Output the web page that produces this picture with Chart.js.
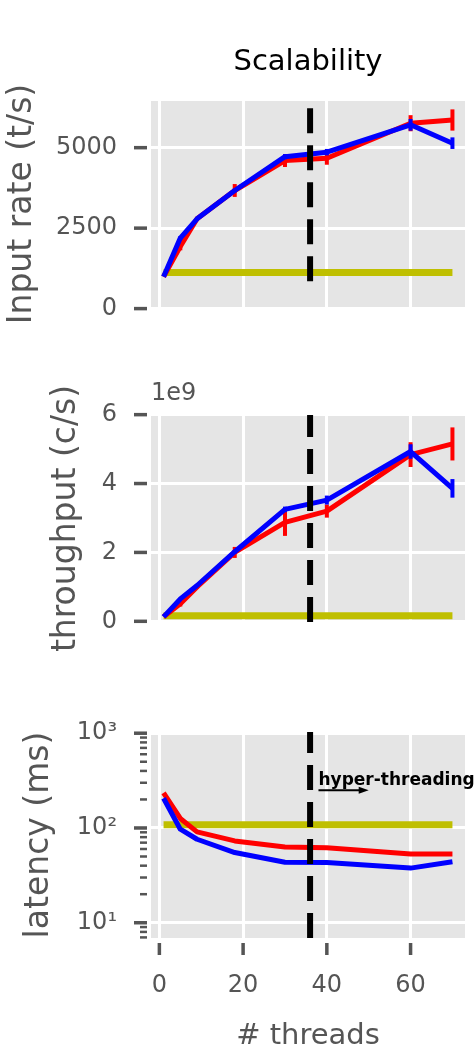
<!DOCTYPE html>
<html>
<head>
<meta charset="utf-8">
<script src="https://cdn.jsdelivr.net/npm/chart.js@4.4.1/dist/chart.umd.min.js"></script>
<style>
    html, body { margin: 0; padding: 0; background: #fff; }
    #wrap { position: relative; width: 474px; height: 1052px; }
    canvas { position: absolute; left: 0; }
</style>
</head>
<body>
<div id="wrap">
    <canvas id="rateChart" width="474" height="340" style="top:0px"></canvas>
    <canvas id="tputChart" width="474" height="300" style="top:360px"></canvas>
    <canvas id="latChart" width="474" height="372" style="top:680px"></canvas>
</div>
<script>
// --- data ---
const threads = [1, 5, 9, 18, 30, 40, 60, 70];
const threadTicks = [0, 20, 40, 60];
const physicalCores = 36; // dashed line: hyper-threading starts here

// input rate (t/s)
const rateRed = [990, 1930, 2790, 3670, 4600, 4670, 5760, 5860];
const rateRedErr = [0, 120, 60, 200, 200, 200, 250, 330];
const rateBlue = [990, 2190, 2790, 3670, 4720, 4860, 5710, 5140];
const rateBlueErr = [0, 60, 40, 60, 80, 100, 180, 180];
const rateBaseline = 1120;
const rateTicks = [0, 2500, 5000];

// throughput (c/s)
const tputRed = [0.13e9, 0.51e9, 1.0e9, 2.0e9, 2.87e9, 3.20e9, 4.84e9, 5.15e9];
const tputRedErr = [0, 0.08e9, 0.05e9, 0.16e9, 0.39e9, 0.19e9, 0.36e9, 0.48e9];
const tputBlue = [0.13e9, 0.65e9, 1.04e9, 2.02e9, 3.25e9, 3.52e9, 4.93e9, 3.86e9];
const tputBlueErr = [0, 0.03e9, 0.03e9, 0.05e9, 0.08e9, 0.13e9, 0.21e9, 0.27e9];
const tputBaseline = 0.16e9;
const tputTicks = [0, 2e9, 4e9, 6e9];

// latency (ms), log scale
const latRed = [235, 126, 91, 73, 63, 62, 53, 53];
const latBlue = [206, 97, 76, 55, 43.5, 43.3, 37.7, 44];
const latBaseline = 108;
const latTicks = [10, 100, 1000];
const latTickLabels = ['10\u00B9', '10\u00B2', '10\u00B3'];

const FONT = 'DejaVu Sans';
const GREY = '#555555';
const RED = '#ff0000';
const BLUE = '#0000ff';
const OLIVE = '#bfbf00';

// --- plugins ---
const panelBg = {
    id: 'panelBg',
    beforeDraw(chart) {
        const { ctx, chartArea: a } = chart;
        ctx.save();
        ctx.fillStyle = '#e5e5e5';
        ctx.fillRect(a.left, a.top, a.right - a.left, a.bottom - a.top);
        ctx.restore();
    }
};

const errorBars = {
    id: 'errorBars',
    afterDatasetDraw(chart, args) {
        const ds = chart.data.datasets[args.index];
        if (!ds.errors) return;
        const { ctx } = chart;
        const x = chart.scales.x, y = chart.scales.y;
        ctx.save();
        ctx.strokeStyle = ds.borderColor;
        ctx.lineWidth = 4;
        ds.data.forEach((p, i) => {
            const e = ds.errors[i];
            if (!e) return;
            const px = x.getPixelForValue(p.x);
            ctx.beginPath();
            ctx.moveTo(px, y.getPixelForValue(p.y - e));
            ctx.lineTo(px, y.getPixelForValue(p.y + e));
            ctx.stroke();
        });
        ctx.restore();
    }
};

// matplotlib-like tick marks, drawn a little away from the panel
const tickMarks = {
    id: 'tickMarks',
    afterDraw(chart, args, opts) {
        const { ctx, chartArea: a } = chart;
        const x = chart.scales.x, y = chart.scales.y;
        ctx.save();
        ctx.strokeStyle = GREY;
        ctx.lineWidth = 3.5;
        y.ticks.forEach(t => {
            const py = y.getPixelForValue(t.value);
            ctx.beginPath();
            ctx.moveTo(a.left - 17, py);
            ctx.lineTo(a.left - 4, py);
            ctx.stroke();
        });
        if (opts.minor) {
            ctx.lineWidth = 2.5;
            opts.minor.forEach(v => {
                const py = y.getPixelForValue(v);
                ctx.beginPath();
                ctx.moveTo(a.left - 11, py);
                ctx.lineTo(a.left - 4, py);
                ctx.stroke();
            });
        }
        if (opts.xTicks) {
            ctx.lineWidth = 3.5;
            x.ticks.forEach(t => {
                const px = x.getPixelForValue(t.value);
                ctx.beginPath();
                ctx.moveTo(px, a.bottom + 5);
                ctx.lineTo(px, a.bottom + 17);
                ctx.stroke();
            });
        }
        ctx.restore();
    }
};

const notes = {
    id: 'notes',
    afterDraw(chart, args, opts) {
        const { ctx, chartArea: a } = chart;
        const x = chart.scales.x, y = chart.scales.y;
        ctx.save();
        if (opts.title) {
            ctx.fillStyle = '#000';
            ctx.font = '29px "' + FONT + '"';
            ctx.textAlign = 'center';
            ctx.textBaseline = 'alphabetic';
            ctx.fillText(opts.title, (a.left + a.right) / 2, a.top - 31);
        }
        if (opts.offsetText) {
            ctx.fillStyle = GREY;
            ctx.font = '24px "' + FONT + '"';
            ctx.textAlign = 'left';
            ctx.textBaseline = 'alphabetic';
            ctx.fillText(opts.offsetText, a.left, a.top - 15);
        }
        if (opts.label) {
            const l = opts.label;
            ctx.fillStyle = '#000';
            ctx.font = 'bold 17px "' + FONT + '"';
            ctx.textAlign = 'left';
            ctx.textBaseline = 'alphabetic';
            ctx.fillText(l.text, x.getPixelForValue(l.x), y.getPixelForValue(l.y));
            const x0 = x.getPixelForValue(l.arrowFrom), x1 = x.getPixelForValue(l.arrowTo);
            const py = y.getPixelForValue(l.arrowY);
            ctx.strokeStyle = '#000';
            ctx.lineWidth = 2;
            ctx.beginPath();
            ctx.moveTo(x0, py);
            ctx.lineTo(x1 - 8, py);
            ctx.stroke();
            ctx.beginPath();
            ctx.moveTo(x1, py);
            ctx.lineTo(x1 - 10, py - 3.5);
            ctx.lineTo(x1 - 10, py + 3.5);
            ctx.closePath();
            ctx.fill();
        }
        ctx.restore();
    }
};

// --- helpers ---
function series(values, color, errs) {
    return {
        data: threads.map((t, i) => ({ x: t, y: values[i] })),
        borderColor: color,
        borderWidth: 5,
        borderJoinStyle: 'round',
        pointRadius: 0,
        tension: 0,
        errors: errs
    };
}

function baseline(value) {
    return {
        data: [{ x: threads[0], y: value }, { x: threads[threads.length - 1], y: value }],
        borderColor: OLIVE,
        borderWidth: 7,
        borderCapStyle: 'butt',
        pointRadius: 0
    };
}

function htLine(from, to) {
    return {
        data: [{ x: physicalCores, y: from }, { x: physicalCores, y: to }],
        borderColor: '#000',
        borderWidth: 6,
        borderDash: [25, 12],
        borderCapStyle: 'butt',
        pointRadius: 0
    };
}

function makeChart(id, cfg) {
    const xAxis = {
        type: 'linear',
        min: -2,
        max: 73,
        afterBuildTicks: s => { s.ticks = threadTicks.map(v => ({ value: v })); },
        afterFit: s => {
            s.height = cfg.xHeight;
            s.paddingLeft = 0;
            s.paddingRight = 0;
        },
        grid: { color: '#ffffff', lineWidth: 3, drawTicks: false },
        border: { display: false },
        ticks: {
            display: !!cfg.xLabels,
            autoSkip: false,
            maxRotation: 0,
            padding: 33,
            color: GREY,
            font: { family: FONT, size: 24 }
        },
        title: {
            display: !!cfg.xLabels,
            text: '# threads',
            color: GREY,
            font: { family: FONT, size: 29 },
            padding: { top: 0, bottom: -2 }
        }
    };
    const yAxis = {
        type: cfg.yType || 'linear',
        min: cfg.yMin,
        max: cfg.yMax,
        afterBuildTicks: s => { s.ticks = cfg.yTicks.map(v => ({ value: v })); },
        afterFit: s => {
            s.width = 151;
            s.paddingTop = 0;
            s.paddingBottom = 0;
        },
        grid: { color: '#ffffff', lineWidth: 3, drawTicks: false },
        border: { display: false },
        ticks: {
            autoSkip: false,
            padding: 34,
            color: GREY,
            font: { family: FONT, size: 24 },
            callback: cfg.yLabel
        },
        title: {
            display: true,
            text: cfg.yTitle,
            color: GREY,
            font: { family: FONT, size: 33 },
            padding: { top: cfg.yTitlePad, bottom: 0 }
        }
    };
    return new Chart(document.getElementById(id), {
        type: 'line',
        data: { datasets: cfg.datasets },
        options: {
            responsive: false,
            animation: false,
            devicePixelRatio: 1,
            layout: { padding: cfg.padding },
            scales: { x: xAxis, y: yAxis },
            plugins: {
                legend: { display: false },
                tooltip: { enabled: false },
                title: { display: false },
                tickMarks: cfg.marks || {},
                notes: cfg.notes || {}
            }
        },
        plugins: [panelBg, errorBars, tickMarks, notes]
    });
}

// --- panel 1: input rate ---
makeChart('rateChart', {
    padding: { top: 101, left: 0, right: 9, bottom: 33 },
    xHeight: 0,
    yMin: 50,
    yMax: 6450,
    yTicks: rateTicks,
    yLabel: v => String(v),
    yTitle: 'Input rate (t/s)',
    yTitlePad: 3,
    notes: { title: 'Scalability' },
    datasets: [
        htLine(850, 6450),
        series(rateBlue, BLUE, rateBlueErr),
        series(rateRed, RED, rateRedErr),
        baseline(rateBaseline)
    ]
});

// --- panel 2: throughput ---
makeChart('tputChart', {
    padding: { top: 55, left: 0, right: 9, bottom: 38 },
    xHeight: 0,
    yMin: -0.02e9,
    yMax: 5.99e9,
    yTicks: tputTicks,
    yLabel: v => String(Math.round(v / 1e9)),
    yTitle: 'throughput (c/s)',
    yTitlePad: 47,
    notes: { offsetText: '1e9' },
    datasets: [
        htLine(-0.02e9, 5.99e9),
        series(tputBlue, BLUE, tputBlueErr),
        series(tputRed, RED, tputRedErr),
        baseline(tputBaseline)
    ]
});

// --- panel 3: latency (log) ---
const latMinor = [1, 10, 100]
    .flatMap(d => [2, 3, 4, 5, 6, 7, 8, 9].map(m => m * d))
    .filter(v => v >= 6.9 && v <= 1030);

makeChart('latChart', {
    padding: { top: 52, left: 0, right: 9, bottom: 0 },
    xHeight: 114,
    xLabels: true,
    yType: 'logarithmic',
    yMin: 6.9,
    yMax: 1030,
    yTicks: latTicks,
    yLabel: v => latTickLabels[latTicks.indexOf(v)] || '',
    yTitle: 'latency (ms)',
    yTitlePad: 20,
    marks: { minor: latMinor, xTicks: true },
    notes: {
        label: { text: 'hyper-threading', x: 38, y: 285, arrowFrom: 38, arrowTo: 50, arrowY: 250 }
    },
    datasets: [
        htLine(6.9, 1030),
        series(latBlue, BLUE, null),
        series(latRed, RED, null),
        baseline(latBaseline)
    ]
});
</script>
</body>
</html>
